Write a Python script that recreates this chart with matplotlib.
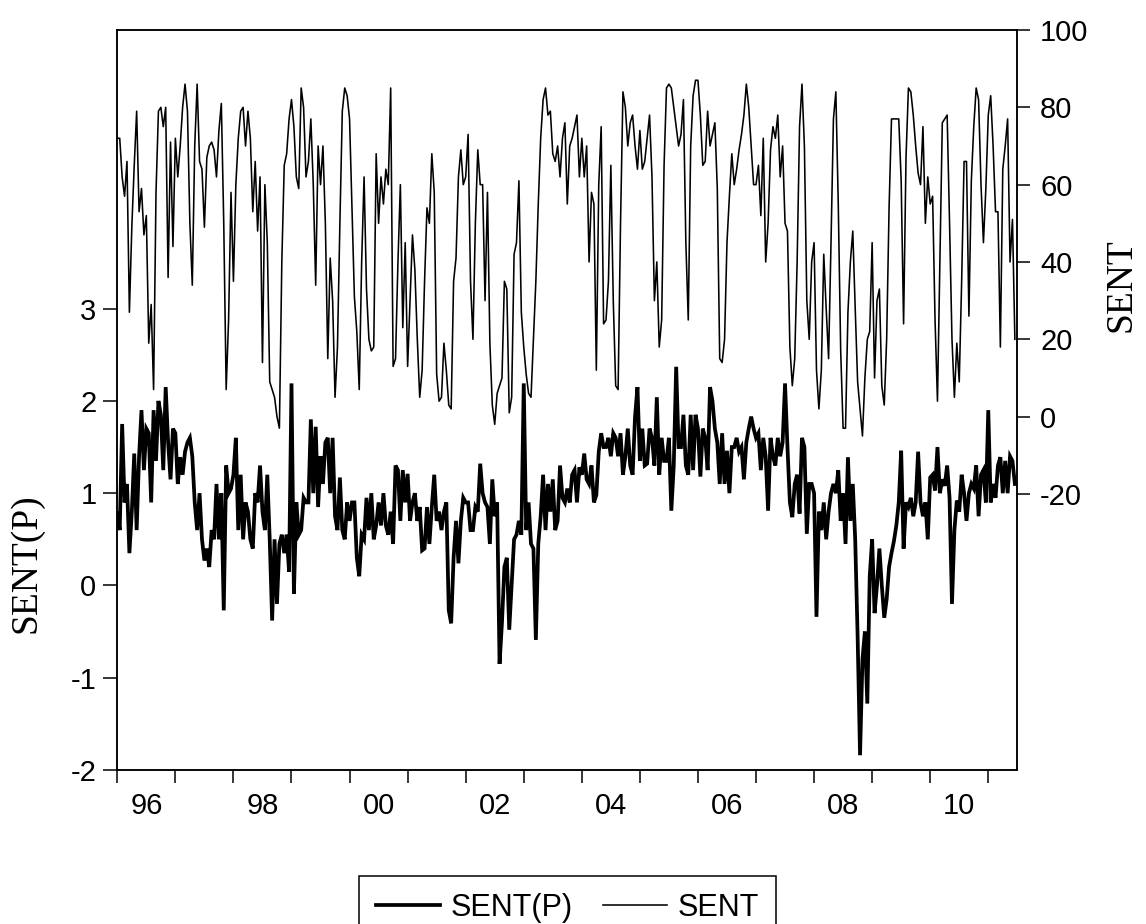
import numpy as np
import matplotlib
matplotlib.use("Agg")
import matplotlib.pyplot as plt
from matplotlib.lines import Line2D

plt.rcParams['font.family'] = ['Liberation Sans', 'DejaVu Sans']
plt.rcParams['axes.unicode_minus'] = False

# ---- data (semi-monthly readings, 24 per year, starting 1996) ----
sent = [
    72, 72, 62, 57, 66, 27, 49, 65, 79, 53, 59, 47, 52, 19, 29, 7, 58, 79, 80, 75, 80, 36, 71, 44,      # 1996
    72, 62, 70, 80, 86, 79, 50, 34, 70, 86, 66, 64, 49, 67, 70, 71, 69, 62, 74, 81, 50, 7, 25, 58,      # 1997
    35, 60, 72, 79, 80, 70, 79, 72, 53, 66, 48, 62, 14, 60, 45, 9, 7, 5, 0, -3, 40, 65, 68, 77,         # 1998
    82, 75, 62, 59, 85, 80, 62, 66, 77, 60, 34, 70, 60, 70, 50, 15, 41, 30, 5, 18, 50, 79, 85, 83,      # 1999
    77, 54, 31, 22, 7, 40, 62, 33, 20, 17, 18, 68, 50, 62, 55, 64, 60, 85, 13, 15, 40, 60, 23, 45,      # 2000
    13, 30, 47, 38, 20, 5, 12, 35, 54, 50, 68, 58, 11, 4, 5, 19, 12, 3, 2, 35, 41, 62, 69, 60,          # 2001
    62, 73, 35, 20, 50, 69, 60, 60, 30, 58, 19, 3, -2, 6, 8, 10, 35, 33, 1, 5, 42, 45, 61, 27,          # 2002
    18, 11, 6, 5, 20, 35, 55, 72, 82, 85, 78, 79, 68, 66, 70, 62, 72, 76, 55, 70, 72, 75, 78, 62,       # 2003
    72, 62, 70, 40, 58, 55, 12, 60, 75, 24, 25, 35, 65, 30, 8, 7, 50, 84, 80, 70, 76, 78, 70, 64,       # 2004
    74, 64, 66, 72, 78, 62, 30, 40, 18, 25, 65, 85, 86, 85, 80, 75, 70, 73, 82, 45, 25, 70, 83, 87,     # 2005
    87, 78, 65, 66, 79, 70, 73, 76, 59, 15, 14, 20, 45, 57, 68, 60, 64, 69, 73, 78, 86, 80, 70, 60,     # 2006
    60, 65, 52, 72, 40, 50, 69, 75, 72, 78, 62, 70, 50, 48, 18, 8, 15, 40, 75, 86, 70, 30, 20, 40,      # 2007
    45, 12, 2, 12, 42, 28, 15, 45, 77, 84, 55, 17, -3, -3, 27, 40, 48, 28, 9, 2, -5, 10, 20, 22,        # 2008
    45, 10, 30, 33, 8, 3, 20, 54, 77, 77, 77, 77, 61, 24, 67, 85, 84, 78, 70, 63, 60, 75, 50, 62,       # 2009
    55, 57, 25, 4, 40, 76, 77, 78, 50, 20, 5, 19, 9, 35, 66, 66, 26, 61, 75, 85, 82, 60, 45, 59,        # 2010
    78, 83, 70, 53, 53, 18, 64, 70, 77, 40, 51, 20,                                                      # 2011
]

sent_p = [
    0.78, 0.6, 1.75, 0.9, 1.1, 0.35, 0.8, 1.43, 0.6, 1.4, 1.9, 1.25, 1.7, 1.65, 0.9, 1.9, 1.35, 2.0, 1.85, 1.25, 2.15, 1.55, 1.15, 1.7,      # 1996
    1.65, 1.1, 1.39, 1.2, 1.45, 1.55, 1.6, 1.4, 0.9, 0.6, 1.0, 0.5, 0.27, 0.4, 0.2, 0.6, 0.5, 1.1, 0.5, 1.0, -0.27, 1.3, 1.0, 1.05,      # 1997
    1.2, 1.6, 0.6, 1.2, 0.5, 0.9, 0.8, 0.5, 0.4, 1.0, 0.9, 1.3, 0.8, 0.6, 1.2, 0.5, -0.38, 0.5, -0.2, 0.45, 0.55, 0.35, 0.55, 0.15,      # 1998
    2.19, -0.09, 0.9, 0.55, 0.6, 0.95, 0.9, 0.9, 1.8, 1.0, 1.72, 0.85, 1.4, 1.1, 1.55, 1.6, 1.0, 1.6, 0.75, 0.6, 1.17, 0.6, 0.5, 0.9,    # 1999
    0.7, 0.9, 0.9, 0.3, 0.1, 0.55, 0.5, 0.95, 0.6, 1.0, 0.5, 0.65, 0.9, 0.65, 1.0, 0.65, 0.55, 0.8, 0.45, 1.3, 1.25, 0.7, 1.25, 0.9,     # 2000
    1.21, 0.7, 0.9, 1.0, 0.7, 0.85, 0.38, 0.4, 0.85, 0.45, 0.85, 1.2, 0.7, 0.8, 0.6, 0.8, 0.9, -0.27, -0.41, 0.3, 0.7, 0.24, 0.7, 0.95, # 2001
    0.9, 0.9, 0.6, 0.6, 0.85, 0.8, 1.32, 1.0, 0.9, 0.85, 0.45, 1.15, 0.75, 0.9, -0.85, -0.4, 0.2, 0.3, -0.48, 0.0, 0.5, 0.55, 0.7, 0.55,  # 2002
    2.19, 0.6, 0.9, 0.45, 0.4, -0.59, 0.45, 0.75, 1.2, 0.6, 1.1, 0.8, 1.15, 0.6, 0.7, 1.3, 0.95, 0.9, 1.05, 0.9, 1.2, 1.25, 0.9, 1.28,  # 2003
    1.2, 1.43, 1.15, 1.1, 1.3, 0.9, 0.98, 1.45, 1.65, 1.5, 1.5, 1.6, 1.4, 1.65, 1.6, 1.4, 1.65, 1.2, 1.4, 1.7, 1.3, 1.2, 1.83, 2.15,     # 2004
    1.35, 1.7, 1.3, 1.32, 1.7, 1.6, 1.3, 2.04, 1.2, 1.6, 1.35, 1.35, 1.6, 0.81, 1.3, 2.37, 1.5, 1.5, 1.85, 1.3, 1.2, 1.85, 1.25, 1.85,  # 2005
    1.7, 1.18, 1.7, 1.6, 1.25, 2.15, 2.0, 1.7, 1.55, 1.1, 1.65, 1.1, 1.46, 1.0, 1.5, 1.5, 1.6, 1.45, 1.5, 1.15, 1.55, 1.7, 1.83, 1.7,    # 2006
    1.6, 1.65, 1.25, 1.6, 1.4, 0.81, 1.6, 1.4, 1.3, 1.6, 1.4, 1.55, 2.19, 1.5, 0.9, 0.74, 1.1, 1.2, 0.78, 1.6, 1.5, 0.56, 1.1, 1.1,     # 2007
    1.0, -0.34, 0.8, 0.6, 0.9, 0.5, 0.8, 1.0, 1.1, 1.0, 1.25, 0.7, 1.0, 0.45, 1.39, 0.7, 1.1, 0.5, -0.55, -1.84, -0.8, -0.5, -1.28, 0.1, # 2008
    0.5, -0.3, 0.0, 0.4, 0.0, -0.35, -0.15, 0.2, 0.35, 0.48, 0.65, 0.9, 1.46, 0.4, 0.9, 0.85, 0.95, 0.75, 0.9, 1.45, 0.9, 0.75, 0.9, 0.5, # 2009
    1.17, 1.2, 1.03, 1.5, 1.0, 1.15, 1.08, 1.3, 0.95, -0.2, 0.6, 0.92, 0.8, 1.2, 1.0, 0.7, 1.0, 1.1, 1.05, 1.3, 0.75, 1.2, 1.25, 0.9,   # 2010
    1.9, 0.9, 1.1, 0.95, 1.3, 1.39, 1.0, 1.35, 1.0, 1.4, 1.35, 1.1,                                                                     # 2011
]

start_year = 1996
per_year = 24
year_ticks = list(range(1996, 2012))
label_years = [1996, 1998, 2000, 2002, 2004, 2006, 2008, 2010]
x_labels = ['96', '98', '00', '02', '04', '06', '08', '10']
left_ticks = [-2, -1, 0, 1, 2, 3]
right_ticks = [-20, 0, 20, 40, 60, 80, 100]

t_s = start_year + np.arange(len(sent)) / per_year
t_p = start_year + np.arange(len(sent_p)) / per_year

W, H = 1146, 924
fig = plt.figure(figsize=(W / 100, H / 100), dpi=100)
L, R, T, B = 117.3, 1017.3, 30, 770
ax = fig.add_axes([L / W, 1 - B / H, (R - L) / W, (B - T) / H])
ax2 = ax.twinx()

ax.plot(t_p, sent_p, color='black', lw=2.7, solid_joinstyle='miter')
ax2.plot(t_s, sent, color='black', lw=1.15)

ax.set_xlim(1996.0, 2011.5)
ax.set_ylim(-2, 6.02)
ax2.set_ylim(-91.4, 100)

ax.set_xticks(year_ticks)
ax.set_xticklabels([''] * len(year_ticks))
ax.set_xticks([y + 0.5 for y in label_years], minor=True)
ax.set_xticklabels(x_labels, minor=True)
ax.tick_params(axis='x', which='major', direction='out', length=9.5, width=1.1)
ax.tick_params(axis='x', which='minor', length=0, pad=16, labelsize=21)

ax.set_yticks(left_ticks)
ax.set_yticklabels([str(v) for v in left_ticks])
ax.tick_params(axis='y', direction='out', length=10, width=1.1, pad=5, labelsize=21)
ax.yaxis.set_minor_locator(matplotlib.ticker.NullLocator())

ax2.set_yticks(right_ticks)
ax2.set_yticklabels([str(v) for v in right_ticks])
ax2.tick_params(axis='y', direction='out', length=9.5, width=1.1, pad=7, labelsize=21)

for a in (ax, ax2):
    for s in a.spines.values():
        s.set_linewidth(1.1)
        s.set_color('black')

ax.set_ylabel('SENT(P)', fontfamily='Liberation Serif', fontsize=27, va='center')
ax.yaxis.set_label_coords(-0.101, 0.28)
ax2.set_ylabel('SENT', fontfamily='Liberation Serif', fontsize=27, va='center', rotation=90)
ax2.yaxis.set_label_coords(1.115, 0.655)

handles = [Line2D([], [], color='black', lw=2.7), Line2D([], [], color='black', lw=1.15)]
leg = fig.legend(handles, ['SENT(P)', 'SENT'], loc='center',
                 bbox_to_anchor=(567.5 / W, 1 - 908 / H), ncol=2, fontsize=22,
                 frameon=True, fancybox=False, edgecolor='black', framealpha=1,
                 handlelength=2.1, handletextpad=0.33, columnspacing=1.0,
                 borderpad=0.55, borderaxespad=0)
leg.get_frame().set_linewidth(1.1)

fig.savefig('out.png', dpi=100)
